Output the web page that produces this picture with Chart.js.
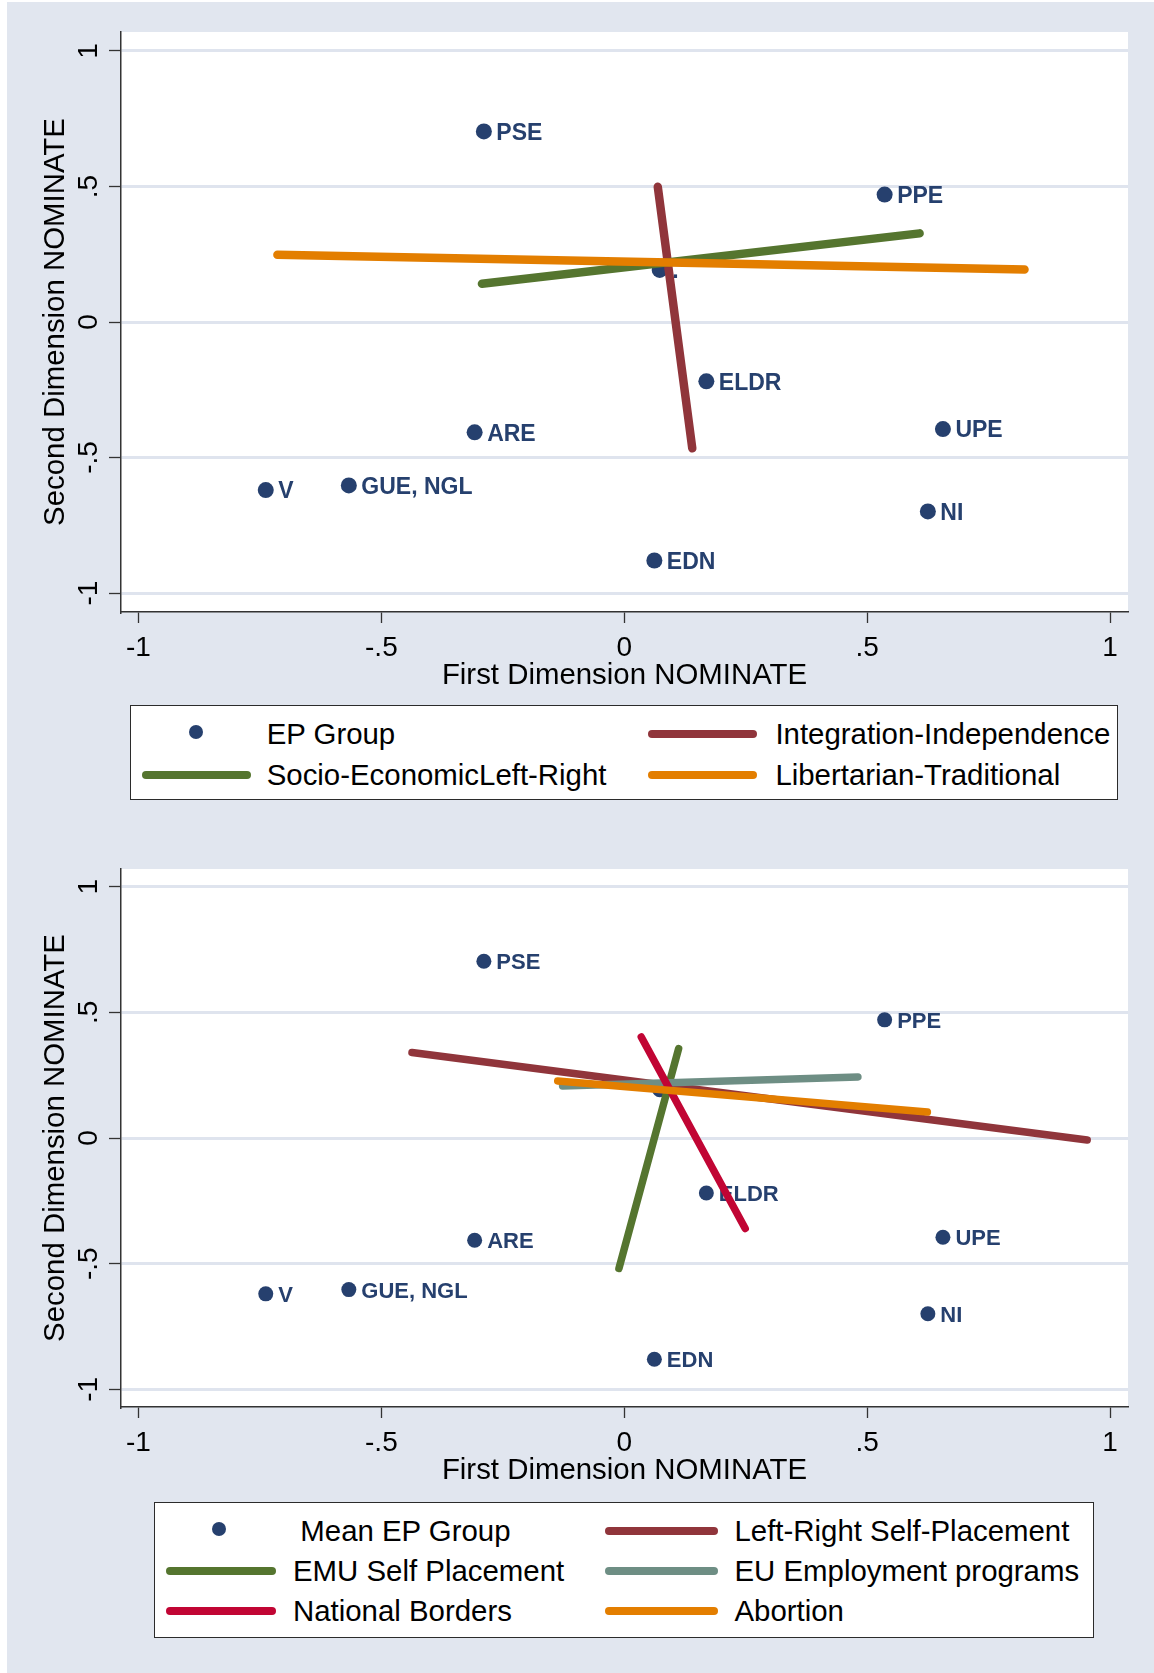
<!DOCTYPE html>
<html>
<head>
<meta charset="utf-8">
<script src="https://cdn.jsdelivr.net/npm/chart.js@4.4.1/dist/chart.umd.min.js"></script>
<style>
  html, body { margin: 0; padding: 0; background: #fff; }
  body { width: 1154px; height: 1673px; position: relative; overflow: hidden; font-family: "Liberation Sans", Arial, sans-serif; }
  #panel { position: absolute; left: 7px; top: 2px; right: 0; bottom: 0; background: #e1e6ef; }
  canvas { position: absolute; left: 0; }
  .legend { position: absolute; background: #fff; border: 1.5px solid #2b2b2b; box-sizing: border-box; }
  .lgText { position: absolute; font-size: 29.4px; line-height: 34px; height: 34px; color: #000; white-space: nowrap; }
  .lgKey { position: absolute; display: block; }
</style>
</head>
<body>
<div id="panel"></div>
<canvas id="topChart" width="1154" height="700" style="top:0px"></canvas>
<canvas id="bottomChart" width="1154" height="658" style="top:837px"></canvas>
<div id="legendTop" class="legend"></div>
<div id="legendBottom" class="legend"></div>
<script>
// EP group positions (same in both panels)
const groupLabels = ['PSE', 'PPE', '.', 'ELDR', 'UPE', 'NI', 'EDN', 'ARE', 'GUE, NGL', 'V'];
const groupX = [-0.289, 0.536, 0.073, 0.169, 0.656, 0.625, 0.062, -0.308, -0.567, -0.738];
const groupY = [0.703, 0.470, 0.192, -0.219, -0.395, -0.699, -0.880, -0.407, -0.603, -0.620];

// axis ticks
const tickValues = [-1, -0.5, 0, 0.5, 1];
const tickLabels = ['-1', '-.5', '0', '.5', '1'];

// top panel: dimension lines (start, end)
const topNames = ['Integration-Independence', 'Socio-EconomicLeft-Right', 'Libertarian-Traditional'];
const topLineX = [[0.069, 0.140], [-0.293, 0.608], [-0.714, 0.824]];
const topLineY = [[0.499, -0.466], [0.141, 0.327], [0.248, 0.194]];

// bottom panel: issue lines (start, end)
const botNames = ['Left-Right Self-Placement', 'EMU Self Placement', 'EU Employment programs', 'National Borders', 'Abortion'];
const botLineX = [[-0.437, 0.953], [-0.011, 0.112], [-0.127, 0.481], [0.035, 0.249], [-0.137, 0.624]];
const botLineY = [[0.340, -0.008], [-0.519, 0.356], [0.207, 0.243], [0.402, -0.360], [0.227, 0.103]];

const family = '"Liberation Sans", Arial, sans-serif';
const navy = '#26406e', maroon = '#90353b', green = '#55752f', orange = '#e37e00', teal = '#6e8e84', cranberry = '#c10534';
const topColors = [maroon, green, orange];
const botColors = [maroon, green, teal, cranberry, orange];

const plotBg = {
    id: 'plotBg',
    beforeDraw(chart) {
        const a = chart.chartArea, ctx = chart.ctx;
        ctx.save();
        ctx.fillStyle = '#fff';
        ctx.fillRect(a.left, a.top, a.right - a.left, a.bottom - a.top);
        ctx.restore();
    }
};

// vertical y tick labels (Stata style)
const yTickLabels = {
    id: 'yTickLabels',
    afterDraw(chart) {
        const ctx = chart.ctx, ys = chart.scales.y;
        ctx.save();
        ctx.font = '28px ' + family;
        ctx.fillStyle = '#000';
        ctx.textAlign = 'center';
        ctx.textBaseline = 'alphabetic';
        tickValues.forEach((v, i) => {
            ctx.save();
            ctx.translate(97, ys.getPixelForValue(v));
            ctx.rotate(-Math.PI / 2);
            ctx.fillText(tickLabels[i], 0, 0);
            ctx.restore();
        });
        ctx.restore();
    }
};

// group names next to the markers, under the lines
const pointLabels = {
    id: 'pointLabels',
    afterDatasetDraw(chart, args, opts) {
        if (args.index !== 0) return;
        const ctx = chart.ctx;
        ctx.save();
        ctx.font = 'bold ' + opts.size + 'px ' + family;
        ctx.fillStyle = navy;
        ctx.textBaseline = 'middle';
        args.meta.data.forEach((pt, i) => {
            ctx.fillText(groupLabels[i], pt.x + opts.gap, pt.y + 2);
        });
        ctx.restore();
    }
};

function makeChart(id, names, lx, ly, colors, lineW, dotR, labelSize) {
    let datasets = [{
        label: 'EP Group',
        data: groupX.map((x, i) => ({ x: x, y: groupY[i] })),
        backgroundColor: navy,
        borderWidth: 0,
        pointRadius: dotR,
        order: 99
    }];
    names.forEach((n, i) => {
        datasets.push({
            label: n,
            data: lx[i].map((x, j) => ({ x: x, y: ly[i][j] })),
            showLine: true,
            borderColor: colors[i],
            borderWidth: lineW,
            borderCapStyle: 'round',
            pointRadius: 0,
            order: names.length - i
        });
    });

    const setTicks = s => { s.ticks = tickValues.map(v => ({ value: v })); };

    return new Chart(document.getElementById(id), {
        type: 'scatter',
        data: { datasets: datasets },
        options: {
            responsive: false,
            animation: false,
            devicePixelRatio: 1,
            layout: { padding: { left: 0, top: 32, right: 26, bottom: 0 } },
            plugins: {
                legend: { display: false },
                tooltip: { enabled: false },
                pointLabels: { size: labelSize, gap: 12.5 }
            },
            scales: {
                x: {
                    min: -1.036,
                    max: 1.037,
                    afterBuildTicks: setTicks,
                    afterFit: s => { s.height = 88; },
                    grid: { drawOnChartArea: false, drawTicks: true, tickLength: 11, tickColor: '#333', tickWidth: 1.3 },
                    border: { color: '#333', width: 1.5 },
                    ticks: {
                        font: { size: 28, family: family },
                        color: '#000',
                        padding: 8,
                        maxRotation: 0,
                        autoSkip: false,
                        callback: v => tickLabels[tickValues.indexOf(v)]
                    },
                    title: {
                        display: true,
                        text: 'First Dimension NOMINATE',
                        font: { size: 29.4, family: family },
                        color: '#000',
                        padding: { top: 0, bottom: 6 }
                    }
                },
                y: {
                    min: -1.07,
                    max: 1.07,
                    afterBuildTicks: setTicks,
                    afterFit: s => { s.width = 121; },
                    grid: { color: '#dfe4ee', lineWidth: 3, tickLength: 12, tickColor: '#333', tickWidth: 1.3 },
                    border: { color: '#333', width: 1.5 },
                    ticks: { display: false },
                    title: {
                        display: true,
                        text: 'Second Dimension NOMINATE',
                        font: { size: 29.4, family: family },
                        color: '#000',
                        padding: { top: 38, bottom: 0 }
                    }
                }
            }
        },
        plugins: [plotBg, yTickLabels, pointLabels]
    });
}

makeChart('topChart', topNames, topLineX, topLineY, topColors, 8.5, 8, 23);
makeChart('bottomChart', botNames, botLineX, botLineY, botColors, 7.5, 7.5, 22);

// legends: two columns, row-major
function buildLegend(boxId, cfg, entries) {
    const box = document.getElementById(boxId);
    box.style.left = cfg.box[0] + 'px';
    box.style.top = cfg.box[1] + 'px';
    box.style.width = cfg.box[2] + 'px';
    box.style.height = cfg.box[3] + 'px';
    entries.forEach((e, i) => {
        const row = Math.floor(i / 2), col = i % 2;
        const cy = cfg.rows[row];
        const key = document.createElement('i');
        key.className = 'lgKey';
        let textX = cfg.textX[col];
        if (e.type === 'dot') {
            key.style.left = (cfg.dotX - 7) + 'px';
            key.style.top = (cy - 2 - 7) + 'px';
            key.style.width = '14px';
            key.style.height = '14px';
            key.style.borderRadius = '50%';
            key.style.background = e.color;
            textX = cfg.dotTextX;
        } else {
            key.style.left = cfg.keyX[col][0] + 'px';
            key.style.top = (cy - 4) + 'px';
            key.style.width = (cfg.keyX[col][1] - cfg.keyX[col][0]) + 'px';
            key.style.height = '8px';
            key.style.borderRadius = '4px';
            key.style.background = e.color;
        }
        document.body.appendChild(key);
        const t = document.createElement('div');
        t.className = 'lgText';
        t.textContent = e.name;
        t.style.left = textX + 'px';
        t.style.top = (cy - 17) + 'px';
        document.body.appendChild(t);
    });
}

const topEntries = [{ name: 'EP Group', type: 'dot', color: navy }]
    .concat(topNames.map((n, i) => ({ name: n, type: 'line', color: topColors[i] })));
const botEntries = [{ name: 'Mean EP Group', type: 'dot', color: navy }]
    .concat(botNames.map((n, i) => ({ name: n, type: 'line', color: botColors[i] })));

buildLegend('legendTop', {
    box: [130, 705, 988, 95],
    rows: [734, 775],
    dotX: 196, dotTextX: 266.7,
    keyX: [[141.7, 251], [647.7, 757]],
    textX: [266.7, 775.4]
}, topEntries);

buildLegend('legendBottom', {
    box: [154, 1502, 940, 136],
    rows: [1531, 1571, 1611],
    dotX: 219.3, dotTextX: 300.3,
    keyX: [[165.6, 276], [605, 717.5]],
    textX: [293, 734.5]
}, botEntries);
</script>
</body>
</html>
